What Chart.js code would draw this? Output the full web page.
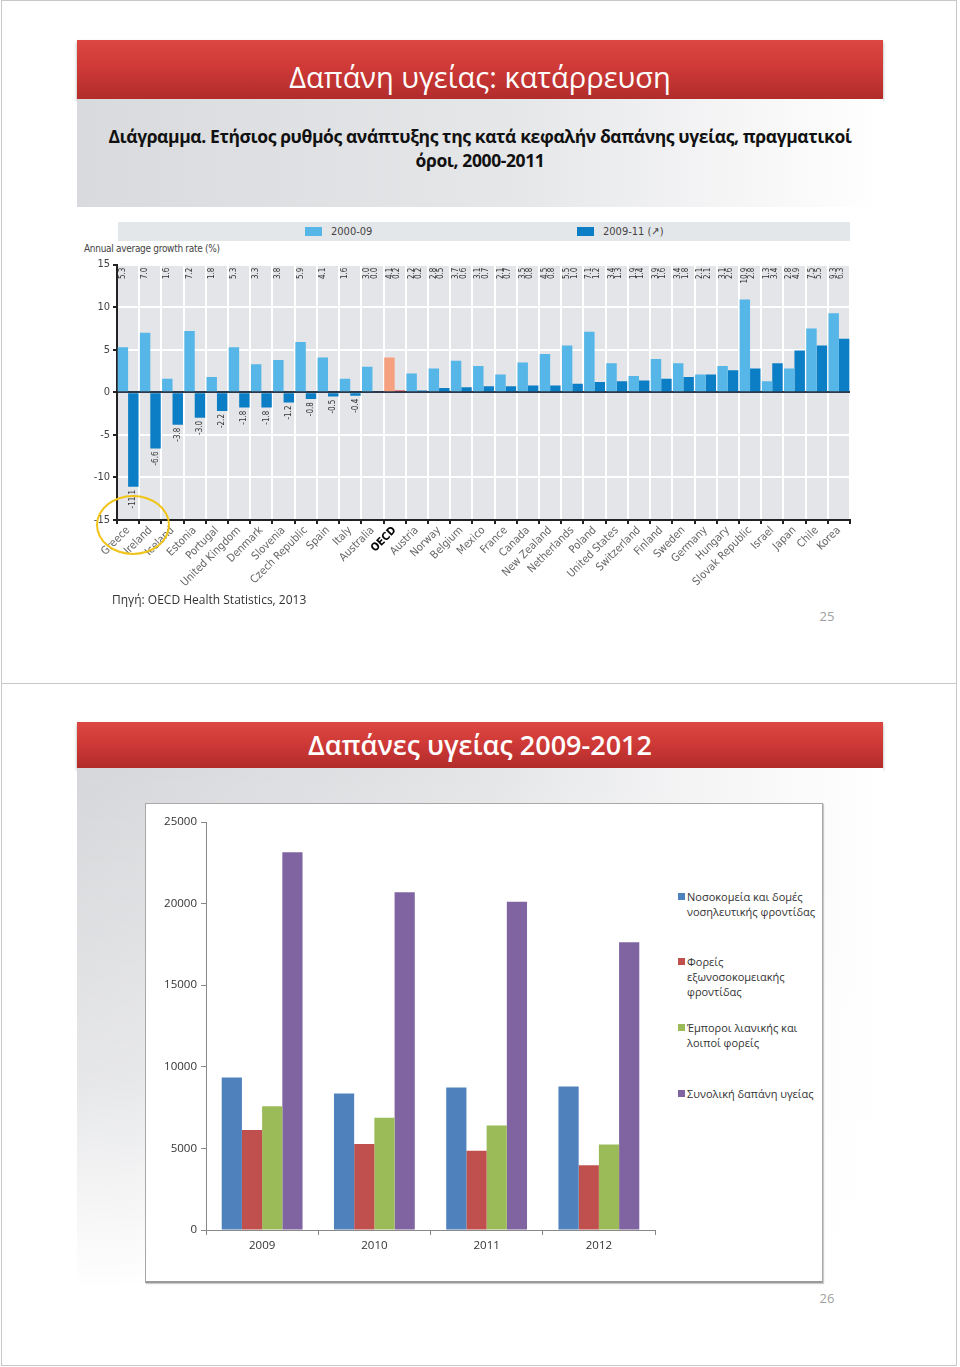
<!DOCTYPE html>
<html lang="el">
<head>
  <meta charset="UTF-8" />
  <title>Δαπάνη υγείας</title>
  <script src="https://cdn.jsdelivr.net/npm/chart.js"></script>
  <style>
    body {
      margin: 0;
      width: 960px;
      height: 1367px;
      position: relative;
      background: #fff;
      font-family: "Open Sans", "Noto Sans", sans-serif;
      overflow: hidden;
    }
    .abs { position: absolute; }
    .frame { position: absolute; left: 1px; width: 956px; border: 1px solid #c8c8c8; box-sizing: border-box; }
    .redbar {
      position: absolute; left: 77px; width: 806px;
      background: linear-gradient(to bottom, #dc4744 0%, #cf3a37 45%, #b12c2b 100%);
      box-shadow: 0 2px 3px rgba(0,0,0,0.35);
      color: #fff; text-align: center;
    }
    .narrow { font-family: "Liberation Sans Narrow", "DejaVu Sans Condensed", "Liberation Sans", sans-serif; }
    .pagenum { position: absolute; left: 812px; width: 30px; text-align: center; color: #a0a0a0; font-size: 13px; }
    .leg2 { position: absolute; left: 678px; font-size: 11px; line-height: 15px; color: #333; }
    .leg2 .sw { position: absolute; left: 0; top: 4px; width: 7px; height: 7px; }
    .leg2 .tx { margin-left: 9px; white-space: nowrap; }
  </style>
</head>
<body>
  <!-- slide frames -->
  <div class="frame" style="top:0; height:684px;"></div>
  <div class="frame" style="top:683px; height:683px;"></div>

  <!-- slide 25 -->
  <div class="redbar" style="top:40px; height:45px; padding-top:14px; font-size:29px; line-height:45px;">Δαπάνη υγείας: κατάρρευση</div>
  <div class="abs" style="left:77px; top:99px; width:806px; height:108px; background: linear-gradient(to right, #d9dadd 0%, #e6e7e9 55%, #f7f7f8 85%, #ffffff 100%);"></div>
  <div class="abs" style="left:77px; top:124px; width:806px; text-align:center; font-weight:700; font-size:17.5px; line-height:24px; letter-spacing:-0.4px; color:#111;">
    Διάγραμμα. Ετήσιος ρυθμός ανάπτυξης της κατά κεφαλήν δαπάνης υγείας, πραγματικοί<br>όροι, 2000-2011
  </div>

  <div id="legend1" class="abs narrow" style="left:118px; top:222px; width:732px; height:19px; background:#e4e7ea; font-size:11px; color:#444;"></div>
  <div class="abs narrow" style="left:84px; top:243px; font-size:10px; color:#444; letter-spacing:-0.3px;">Annual average growth rate (%)</div>
  <canvas id="growthChart" class="abs" width="777" height="338" style="left:78px; top:255px;"></canvas>
  <div class="abs" style="left:96px; top:495px; width:70px; height:56px; border:2px solid #f0c419; border-radius:50%;"></div>
  <div class="abs" style="left:112px; top:593px; font-size:12px; line-height:14px; color:#333;">Πηγή: OECD Health Statistics, 2013</div>
  <div class="pagenum" style="top:607px;">25</div>

  <!-- slide 26 -->
  <div class="redbar" style="top:722px; height:46px; font-size:27px; font-weight:600; line-height:46px;">Δαπάνες υγείας 2009-2012</div>
  <div class="abs" style="left:77px; top:768px; width:806px; height:520px; background: linear-gradient(to bottom, rgba(255,255,255,0) 0%, rgba(255,255,255,0.4) 60%, #fff 100%), linear-gradient(to right, #d6d7da 0%, #e4e5e7 50%, #f6f6f7 80%, #fff 100%);"></div>
  <div class="abs" style="left:145px; top:803px; width:678px; height:480px; background:#fff; border:1px solid #a8a8a8; border-bottom:2px solid #9a9a9a; box-sizing:border-box; box-shadow:1px 1px 1px rgba(0,0,0,0.2);"></div>
  <canvas id="spendChart" class="abs" width="530" height="470" style="left:146px; top:804px;"></canvas>
  <div id="legend2"></div>
  <div class="pagenum" style="top:1289px;">26</div>

  <script>
    // ---- chart 1: annual growth rate per country ----
    const countries = ['Greece', 'Ireland', 'Iceland', 'Estonia', 'Portugal', 'United Kingdom', 'Denmark',
      'Slovenia', 'Czech Republic', 'Spain', 'Italy', 'Australia', 'OECD', 'Austria', 'Norway', 'Belgium',
      'Mexico', 'France', 'Canada', 'New Zealand', 'Netherlands', 'Poland', 'United States', 'Switzerland',
      'Finland', 'Sweden', 'Germany', 'Hungary', 'Slovak Republic', 'Israel', 'Japan', 'Chile', 'Korea'];
    const growth2000_09 = [5.3, 7.0, 1.6, 7.2, 1.8, 5.3, 3.3, 3.8, 5.9, 4.1, 1.6, 3.0, 4.1, 2.2, 2.8, 3.7,
      3.1, 2.1, 3.5, 4.5, 5.5, 7.1, 3.4, 1.9, 3.9, 3.4, 2.1, 3.1, 10.9, 1.3, 2.8, 7.5, 9.3];
    const growth2009_11 = [-11.1, -6.6, -3.8, -3.0, -2.2, -1.8, -1.8, -1.2, -0.8, -0.5, -0.4, 0.0, 0.2, 0.2, 0.5, 0.6,
      0.7, 0.7, 0.8, 0.8, 1.0, 1.2, 1.3, 1.4, 1.6, 1.8, 2.1, 2.6, 2.8, 3.4, 4.9, 5.5, 6.3];
    const periodLabels = ['2000-09', '2009-11 (\u2197)'];
    const growthTicks = [-15, -10, -5, 0, 5, 10, 15];

    // ---- chart 2: health spending 2009-2012 ----
    const years = ['2009', '2010', '2011', '2012'];
    const hospitals = [9350, 8370, 8730, 8800];
    const outpatient = [6120, 5270, 4860, 3960];
    const retail = [7590, 6880, 6410, 5240];
    const totalSpend = [23140, 20690, 20120, 17630];
    const seriesNames = [
      ['Νοσοκομεία και δομές', 'νοσηλευτικής φροντίδας'],
      ['Φορείς', 'εξωνοσοκομειακής', 'φροντίδας'],
      ['Έμποροι λιανικής και', 'λοιποί φορείς'],
      ['Συνολική δαπάνη υγείας']
    ];

    const narrowFont = '"Liberation Sans Narrow", "DejaVu Sans Condensed", "Liberation Sans", sans-serif';
    const lightBlue = '#56b6e7', darkBlue = '#0b7ec6';

    // legend strip for chart 1
    const leg1 = document.getElementById('legend1');
    [[periodLabels[0], lightBlue, 187], [periodLabels[1], darkBlue, 459]].forEach(([txt, col, x]) => {
      leg1.insertAdjacentHTML('beforeend',
        `<div style="position:absolute;left:${x}px;top:5px;width:17px;height:9px;background:${col}"></div>` +
        `<div style="position:absolute;left:${x + 26}px;top:2px;line-height:15px">${txt}</div>`);
    });

    const plotBg = {
      id: 'plotBg',
      beforeDraw(chart) {
        const a = chart.chartArea, c = chart.ctx;
        c.save();
        c.fillStyle = '#e3e5e8';
        c.fillRect(a.left, a.top, a.right - a.left, a.bottom - a.top);
        c.restore();
      }
    };

    function drawVertical(c, text, x, y) {
      c.save();
      c.translate(x, y);
      c.rotate(-Math.PI / 2);
      c.textAlign = 'right';
      c.textBaseline = 'middle';
      c.fillText(text, 0, 0);
      c.restore();
    }

    // rotated value labels: top row for 2000-09 (and positive 2009-11), under the bar for negative ones
    const valueLabels = {
      id: 'valueLabels',
      afterDatasetsDraw(chart) {
        const c = chart.ctx, top = chart.chartArea.top;
        const m0 = chart.getDatasetMeta(0), m1 = chart.getDatasetMeta(1);
        c.save();
        c.font = '8px ' + narrowFont;
        c.fillStyle = '#333';
        countries.forEach((name, i) => {
          const a = growth2000_09[i], b = growth2009_11[i];
          const xa = m0.data[i].x, xb = m1.data[i].x;
          drawVertical(c, a.toFixed(1), xa, top + 3);
          if (b < 0) {
            drawVertical(c, b.toFixed(1), xb, m1.data[i].y + 3);
          } else {
            drawVertical(c, b.toFixed(1), xb - 3, top + 3);
          }
        });
        c.restore();
      }
    };

    new Chart(document.getElementById('growthChart'), {
      type: 'bar',
      data: {
        labels: countries,
        datasets: [
          {
            label: periodLabels[0],
            data: growth2000_09,
            backgroundColor: countries.map(c => c === 'OECD' ? '#f5a07f' : lightBlue),
            barPercentage: 1,
            categoryPercentage: 0.94
          },
          {
            label: periodLabels[1],
            data: growth2009_11,
            backgroundColor: countries.map(c => c === 'OECD' ? '#cf2b2d' : darkBlue),
            barPercentage: 1,
            categoryPercentage: 0.94
          }
        ]
      },
      options: {
        responsive: false,
        animation: false,
        devicePixelRatio: 1,
        layout: { padding: { top: 7, right: 5, left: 0, bottom: 0 } },
        plugins: { legend: { display: false }, tooltip: { enabled: false } },
        scales: {
          x: {
            grid: { offset: true, color: '#ffffff', lineWidth: 2, tickColor: '#222', tickLength: 4 },
            border: { color: '#222', width: 2 },
            ticks: {
              autoSkip: false, minRotation: 45, maxRotation: 45, padding: 0,
              color: ctx => ctx.tick && ctx.tick.label === 'OECD' ? '#000' : '#666',
              font: ctx => ({ family: narrowFont, size: 11, weight: ctx.tick && ctx.tick.label === 'OECD' ? 'bold' : 'normal' })
            },
            afterFit: s => { s.height = 73; }
          },
          y: {
            min: growthTicks[0],
            max: growthTicks[growthTicks.length - 1],
            afterBuildTicks: s => { s.ticks = growthTicks.map(v => ({ value: v })); },
            grid: {
              color: ctx => ctx.tick && ctx.tick.value === 0 ? '#2a3a4a' : '#ffffff',
              lineWidth: 2, tickColor: '#222', tickLength: 4
            },
            border: { color: '#222', width: 2 },
            ticks: { color: '#444', padding: 3, font: { family: narrowFont, size: 11 }, callback: v => String(v) },
            afterFit: s => { s.width = 39; }
          }
        }
      },
      plugins: [plotBg, valueLabels]
    });

    // legend for chart 2
    const seriesColors = ['#4f81bd', '#c0504d', '#9bbb59', '#8064a2'];
    const legendTops = [889, 954, 1020, 1086];
    const leg2 = document.getElementById('legend2');
    seriesNames.forEach((lines, i) => {
      leg2.insertAdjacentHTML('beforeend',
        `<div class="leg2" style="top:${legendTops[i]}px"><div class="sw" style="background:${seriesColors[i]}"></div>` +
        `<div class="tx">${lines.join('<br>')}</div></div>`);
    });

    new Chart(document.getElementById('spendChart'), {
      type: 'bar',
      data: {
        labels: years,
        datasets: [hospitals, outpatient, retail, totalSpend].map((d, i) => ({
          label: seriesNames[i].join(' '),
          data: d,
          backgroundColor: seriesColors[i],
          barPercentage: 1,
          categoryPercentage: 0.72
        }))
      },
      options: {
        responsive: false,
        animation: false,
        devicePixelRatio: 1,
        layout: { padding: { top: 18, right: 21, left: 0, bottom: 0 } },
        plugins: { legend: { display: false }, tooltip: { enabled: false } },
        scales: {
          x: {
            grid: { offset: true, drawOnChartArea: false, tickColor: '#888', tickLength: 5 },
            border: { color: '#888', width: 1 },
            ticks: { color: '#333', padding: 4, font: { family: '"Open Sans", sans-serif', size: 11.5 } },
            afterFit: s => { s.height = 44; }
          },
          y: {
            min: 0, max: 25000,
            ticks: { stepSize: 5000, color: '#333', padding: 4, font: { family: '"Open Sans", sans-serif', size: 11.5 }, callback: v => String(v) },
            grid: { drawOnChartArea: false, tickColor: '#888', tickLength: 5 },
            border: { color: '#888', width: 1 },
            afterFit: s => { s.width = 60; }
          }
        }
      }
    });
  </script>
</body>
</html>
